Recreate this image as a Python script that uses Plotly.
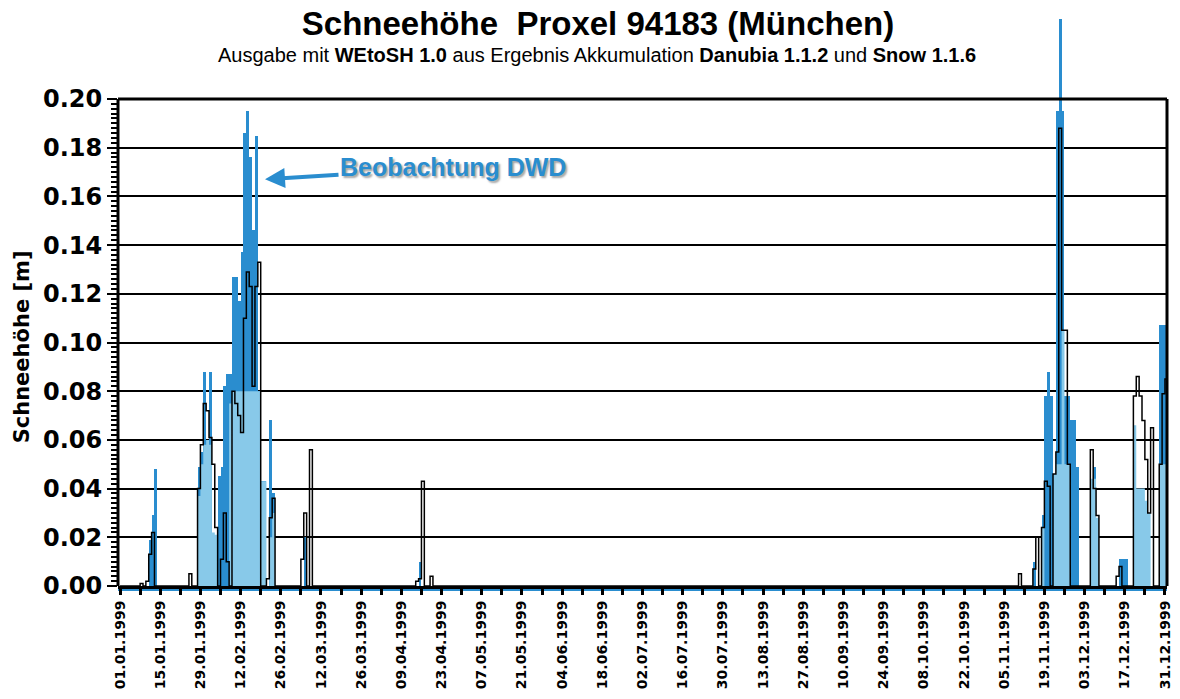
import numpy as np
import pandas as pd
import plotly.graph_objects as go

# Schneehöhe [m], Tageswerte 1999 – Beobachtung DWD (Balken)
obs_jan = [0, 0, 0, 0, 0, 0, 0, 0, 0, 0,
           0.019, 0.029, 0.048, 0, 0, 0, 0, 0, 0, 0,
           0, 0, 0, 0, 0, 0, 0, 0.049, 0.055, 0.088,
           0.060]
obs_feb = [0.088, 0, 0, 0.045, 0.049, 0.082, 0.087, 0.087, 0.127, 0.127,
           0.117, 0.137, 0.186, 0.195, 0.176, 0.146, 0.185, 0.080, 0.043, 0.043,
           0, 0.068, 0.038, 0, 0, 0, 0, 0]
obs_mar = [0, 0, 0, 0, 0, 0.020, 0, 0, 0, 0,
           0, 0, 0, 0, 0, 0, 0, 0, 0, 0,
           0, 0, 0, 0, 0, 0, 0, 0, 0, 0,
           0]
obs_apr = [0, 0, 0, 0, 0, 0, 0, 0, 0, 0,
           0, 0, 0, 0, 0.010, 0, 0, 0, 0, 0,
           0, 0, 0, 0, 0, 0, 0, 0, 0, 0]
obs_nov = [0, 0, 0, 0, 0, 0, 0, 0, 0, 0,
           0, 0, 0, 0, 0.010, 0, 0, 0.029, 0.078, 0.088,
           0.078, 0, 0.195, 0.233, 0.195, 0.078, 0.078, 0.068, 0.068, 0.049]
obs_dec = [0, 0, 0, 0, 0, 0.049, 0, 0, 0, 0,
           0, 0, 0, 0, 0.011, 0.011, 0.011, 0, 0, 0,
           0, 0, 0, 0, 0, 0, 0, 0, 0.107, 0.107,
           0.107]

# Schneehöhe [m] – hellblaue Fläche
area_jan = [0, 0, 0, 0, 0, 0, 0, 0, 0, 0,
            0, 0, 0, 0, 0, 0, 0, 0, 0, 0,
            0, 0, 0, 0, 0, 0, 0, 0.037, 0.050, 0.058,
            0.060]
area_feb = [0.058, 0.022, 0.021, 0, 0, 0, 0, 0.075, 0.080, 0.080,
            0.080, 0.080, 0.080, 0.080, 0.080, 0.080, 0.080, 0.080, 0.043, 0.043,
            0, 0.020, 0.030, 0, 0, 0, 0, 0]
area_mar = [0] * 31
area_apr = [0] * 30
area_nov = [0, 0, 0, 0, 0, 0, 0, 0, 0, 0,
            0, 0, 0, 0, 0, 0, 0, 0.024, 0, 0,
            0, 0.046, 0.050, 0.050, 0.105, 0.050, 0.050, 0, 0, 0]
area_dec = [0, 0, 0, 0, 0.044, 0.044, 0.028, 0, 0, 0,
            0, 0, 0, 0, 0, 0, 0, 0, 0, 0.066,
            0.040, 0.040, 0.040, 0.035, 0.030, 0, 0, 0, 0.050, 0.050,
            0.050]

# Schneehöhe [m] – Simulation (schwarze Linie)
model_jan = [0, 0, 0, 0, 0, 0, 0, 0.001, 0, 0.002,
             0.013, 0.022, 0, 0, 0, 0, 0, 0, 0, 0,
             0, 0, 0, 0, 0.005, 0, 0, 0.040, 0.058, 0.075,
             0.072]
model_feb = [0.061, 0.050, 0.024, 0, 0.011, 0.030, 0.010, 0, 0.080, 0.075,
             0.070, 0.063, 0.110, 0.129, 0.123, 0.082, 0.123, 0.133, 0, 0,
             0.003, 0.028, 0.036, 0, 0, 0, 0, 0]
model_mar = [0, 0, 0, 0, 0.011, 0.030, 0, 0.056, 0, 0,
             0, 0, 0, 0, 0, 0, 0, 0, 0, 0,
             0, 0, 0, 0, 0, 0, 0, 0, 0, 0,
             0]
model_apr = [0, 0, 0, 0, 0, 0, 0, 0, 0, 0,
             0, 0, 0, 0.002, 0.003, 0.043, 0, 0, 0.004, 0,
             0, 0, 0, 0, 0, 0, 0, 0, 0, 0]
model_nov = [0, 0, 0, 0, 0, 0, 0, 0, 0, 0.005,
             0, 0, 0, 0, 0.007, 0.020, 0, 0.024, 0.043, 0.041,
             0, 0.046, 0.055, 0.188, 0.105, 0.105, 0.050, 0, 0, 0]
model_dec = [0, 0, 0, 0, 0.056, 0.040, 0.029, 0, 0, 0,
             0, 0, 0, 0.004, 0.008, 0, 0, 0, 0, 0.078,
             0.086, 0.078, 0.068, 0.052, 0.030, 0.065, 0, 0, 0.050, 0.079,
             0.085]

# Mai bis Oktober schneefrei
snowfree_may_oct = [0] * 184

y_ticks = [0.00, 0.02, 0.04, 0.06, 0.08, 0.10, 0.12, 0.14, 0.16, 0.18, 0.20]

DARK_BLUE = "#2a8dcf"
LIGHT_BLUE = "#88c9e9"
Y_MAX = 0.2345
FRAME_TOP = y_ticks[-1] / Y_MAX


def full_year(jan, feb, mar, apr, nov, dec):
    return np.concatenate([jan, feb, mar, apr, snowfree_may_oct, nov, dec]).astype(float)


days = pd.date_range("1999-01-01", periods=365, freq="D")
obs = full_year(obs_jan, obs_feb, obs_mar, obs_apr, obs_nov, obs_dec)
area = full_year(area_jan, area_feb, area_mar, area_apr, area_nov, area_dec)
model = full_year(model_jan, model_feb, model_mar, model_apr, model_nov, model_dec)

# step traces need the closing edge of the last day
step_x = list(days) + [days[-1] + pd.Timedelta(days=1)]
area_step = np.append(area, area[-1])
model_step = np.append(model, model[-1])

DAY_MS = 86400000

fig = go.Figure()
fig.add_trace(go.Bar(
    x=days, y=obs, width=DAY_MS, offset=0,
    marker=dict(color=DARK_BLUE, line=dict(width=0)),
    name="Beobachtung DWD",
))
fig.add_trace(go.Scatter(
    x=step_x, y=area_step, mode="lines",
    line=dict(shape="hv", width=0, color=LIGHT_BLUE),
    fill="tozeroy", fillcolor=LIGHT_BLUE, name="Fläche",
))
fig.add_trace(go.Scatter(
    x=step_x, y=model_step, mode="lines",
    line=dict(shape="hv", width=1.5, color="black"),
    name="Simulation",
))

label_days = days[::14]

fig.update_layout(
    width=1180, height=699,
    margin=dict(l=118, r=13, t=15, b=113, autoexpand=False),
    paper_bgcolor="white", plot_bgcolor="white",
    showlegend=False,
    bargap=0,
    title=dict(
        text="Schneehöhe&nbsp; Proxel 94183 (München)",
        font=dict(family="Liberation Sans, Arial, sans-serif", size=33, color="black", weight="bold"),
        x=598 / 1180, y=1 - 23 / 699, xref="container", yref="container",
        xanchor="center", yanchor="middle",
    ),
    xaxis=dict(
        type="date", automargin=False,
        range=["1998-12-31 07:00", "1999-12-31 17:00"],
        tickmode="array", tickvals=label_days,
        tickformat="%d.%m.%Y", tickangle=-90,
        ticks="outside", ticklen=6, tickwidth=3, tickcolor="black",
        tickfont=dict(family="DejaVu Sans", size=14, color="black", weight="bold"),
        showline=True, linecolor="black", linewidth=3,
        showgrid=False, zeroline=False,
        minor=dict(dtick=7 * DAY_MS, tick0="1999-01-01", ticks="outside",
                   ticklen=6, tickwidth=3, tickcolor="black", showgrid=False),
    ),
    yaxis=dict(
        range=[0, Y_MAX], automargin=False,
        tickmode="array", tickvals=y_ticks, tickformat=".2f",
        ticks="outside", ticklen=10, tickwidth=2, tickcolor="black",
        tickfont=dict(family="DejaVu Sans", size=24, color="black", weight="bold"),
        showgrid=True, gridcolor="black", gridwidth=1.5,
        zeroline=False, showline=False,
        minor=dict(tickmode="array",
                   tickvals=[round(v, 3) for v in np.arange(0, 0.2001, 0.002)],
                   ticks="outside", ticklen=6, tickwidth=2, tickcolor="black",
                   showgrid=False),
    ),
)

# frame of the diagram (left, top, right)
frame = dict(type="line", xref="x domain", yref="y domain",
             line=dict(color="black", width=3))
fig.add_shape(**frame, x0=0, x1=0, y0=0, y1=FRAME_TOP)
fig.add_shape(**frame, x0=0, x1=1, y0=FRAME_TOP, y1=FRAME_TOP)
fig.add_shape(**frame, x0=1, x1=1, y0=0, y1=FRAME_TOP)
# blue base strip under the time axis
fig.add_shape(type="line", xref="x domain", yref="y domain", layer="below",
              x0=0, x1=1, y0=-0.0065, y1=-0.0065,
              line=dict(color=DARK_BLUE, width=2.5))

# y axis title, centred on the framed value range
fig.add_annotation(
    xref="paper", yref="y", x=-96 / 1049, y=0.098,
    text="Schneehöhe [m]", textangle=-90, showarrow=False,
    xanchor="center", yanchor="middle",
    font=dict(family="DejaVu Sans", size=21, color="black", weight="bold"),
)

fig.add_annotation(
    xref="paper", yref="paper", x=(597 - 118) / 1049, y=(586 - 55) / 571,
    text="Ausgabe mit <b>WEtoSH 1.0</b> aus Ergebnis Akkumulation "
         "<b>Danubia 1.1.2</b> und <b>Snow 1.1.6</b>",
    showarrow=False, xanchor="center", yanchor="middle",
    font=dict(family="Liberation Sans, Arial, sans-serif", size=20, color="black"),
)

fig.add_annotation(
    x=pd.Timestamp("1999-02-20 12:00"), y=0.167,
    text="<b>Beobachtung DWD</b>",
    showarrow=True, ax=188, ay=-12,
    arrowcolor=DARK_BLUE, arrowwidth=4, arrowhead=2, arrowsize=1,
    font=dict(family="Liberation Sans, Arial, sans-serif", size=25, color=DARK_BLUE,
              shadow="2px 2px 2px rgba(0,0,0,0.35)"),
)

fig.write_html("out.html")
